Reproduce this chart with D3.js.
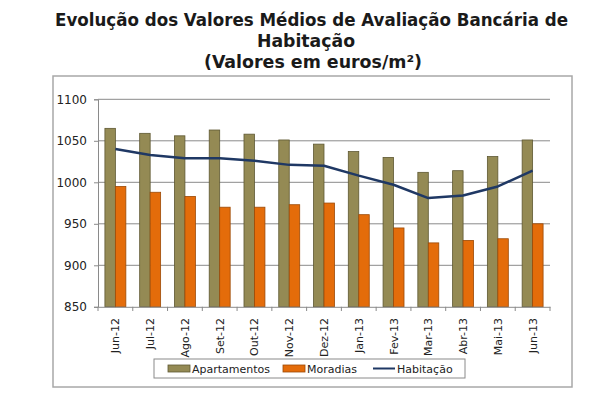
<!DOCTYPE html>
<html><head><meta charset="utf-8">
<script src="https://cdn.jsdelivr.net/npm/d3@7"></script>
<style>html,body{margin:0;padding:0;background:#fff;}svg{display:block;}</style>
</head><body>
<svg id="c" width="610" height="398"></svg>
<script>
const categories = ["Jun-12","Jul-12","Ago-12","Set-12","Out-12","Nov-12","Dez-12","Jan-13","Fev-13","Mar-13","Abr-13","Mai-13","Jun-13"];
const apartamentos = [1065,1059,1056,1063,1058,1051,1046,1037,1030,1012,1014,1031,1051];
const moradias = [995,988,983,970,970,973,975,961,945,927,930,932,950];
const habitacao = [1040,1033,1029,1029,1026,1021,1020,1008,997,981,984,995,1014];
const yTicks = [850,900,950,1000,1050,1100];
const seriesNames = ["Apartamentos","Moradias","Habitação"];
const titleLines = ["Evolução dos Valores Médios de Avaliação Bancária de","Habitação","(Valores em euros/m²)"];

const svg = d3.select("#c");
const colApt = "#948a54", colMor = "#e46c0a", colHab = "#1f3864";
const font = "'DejaVu Sans', Verdana, sans-serif";

// outer frame
svg.append("rect").attr("x",53).attr("y",76).attr("width",519).attr("height",311)
  .attr("fill","#fff").attr("stroke","#a8a8a8").attr("stroke-width",1.5);

// title
const titleY = [26,47,68];
const titleW = [513,98,218];
const titleX = [311.5,306,313];
titleLines.forEach((t,i)=>{
  svg.append("text").attr("x",titleX[i]).attr("y",titleY[i]).attr("text-anchor","middle")
    .attr("font-family","'DejaVu Sans Condensed', 'DejaVu Sans', sans-serif").attr("font-weight","bold")
    .attr("font-size",17).attr("fill","#1a1a1a")
    .attr("textLength",titleW[i]).attr("lengthAdjust","spacingAndGlyphs").text(t);
});

const x = d3.scaleBand().domain(categories).range([98,550]).padding(0);
const sub = d3.scaleBand().domain(["a","m"]).range([0,x.bandwidth()]).paddingInner(0).paddingOuter(0.66);
const y = d3.scaleLinear().domain([850,1100]).range([306.8,99.3]);

// gridlines
svg.append("g").selectAll("line").data(yTicks.filter(v=>v>850)).join("line")
  .attr("x1",98).attr("x2",550).attr("y1",d=>y(d)).attr("y2",d=>y(d))
  .attr("stroke","#8a8a8a").attr("stroke-width",1);

// y axis
const ya = svg.append("g").attr("transform","translate(98,0)")
  .call(d3.axisLeft(y).tickValues(yTicks).tickSize(4).tickPadding(7).tickFormat(d3.format("d")));
ya.select(".domain").attr("stroke","#8a8a8a");
ya.selectAll(".tick line").attr("stroke","#8a8a8a");
ya.selectAll("text").attr("font-family",font).attr("font-size",12).attr("fill","#222");

// bars
const gb = svg.append("g");
gb.selectAll("rect.a").data(categories).join("rect").attr("class","a")
  .attr("x",(d)=>x(d)+sub("a")).attr("width",sub.bandwidth())
  .attr("y",(d,i)=>y(apartamentos[i])).attr("height",(d,i)=>y(850)-y(apartamentos[i]))
  .attr("fill",colApt).attr("stroke","#5e5832").attr("stroke-width",0.8);
gb.selectAll("rect.m").data(categories).join("rect").attr("class","m")
  .attr("x",(d)=>x(d)+sub("m")).attr("width",sub.bandwidth())
  .attr("y",(d,i)=>y(moradias[i])).attr("height",(d,i)=>y(850)-y(moradias[i]))
  .attr("fill",colMor).attr("stroke","#9c4a07").attr("stroke-width",0.8);

// x axis
const xa = svg.append("g").attr("transform","translate(0,306.8)")
  .call(d3.axisBottom(x).tickSize(0).tickFormat(""));
xa.select(".domain").attr("stroke","#8a8a8a");
svg.append("g").selectAll("line").data(categories.concat(["__end"])).join("line")
  .attr("x1",(d,i)=>98+i*x.step()).attr("x2",(d,i)=>98+i*x.step())
  .attr("y1",306.8).attr("y2",311).attr("stroke","#8a8a8a");
svg.append("g").selectAll("text").data(categories).join("text")
  .attr("transform",d=>`translate(${x(d)+x.bandwidth()/2+4},318) rotate(-90)`)
  .attr("text-anchor","end").attr("font-family",font).attr("font-size",11).attr("fill","#222")
  .text(d=>d);

// line
const line = d3.line().x((d,i)=>x(categories[i])+x.bandwidth()/2).y(d=>y(d));
svg.append("path").datum(habitacao).attr("d",line).attr("fill","none")
  .attr("stroke",colHab).attr("stroke-width",2.5).attr("stroke-linejoin","round");

// legend
const lg = svg.append("g");
lg.append("rect").attr("x",154).attr("y",359).attr("width",311).attr("height",19)
  .attr("fill","#fff").attr("stroke","#8a8a8a").attr("stroke-width",1);
const items = [
  {name:seriesNames[0], x:168, type:"bar", fill:colApt, stroke:"#5e5832"},
  {name:seriesNames[1], x:283, type:"bar", fill:colMor, stroke:"#9c4a07"},
  {name:seriesNames[2], x:373, type:"line", fill:colHab}
];
items.forEach(it=>{
  if(it.type==="bar"){
    lg.append("rect").attr("x",it.x).attr("y",365).attr("width",22).attr("height",7)
      .attr("fill",it.fill).attr("stroke",it.stroke).attr("stroke-width",0.8);
  } else {
    lg.append("line").attr("x1",it.x).attr("x2",it.x+22).attr("y1",368.5).attr("y2",368.5)
      .attr("stroke",it.fill).attr("stroke-width",2);
  }
  lg.append("text").attr("x",it.x+24).attr("y",372.5).attr("font-family",font).attr("font-size",11)
    .attr("fill","#222").text(it.name);
});
</script>
</body></html>
